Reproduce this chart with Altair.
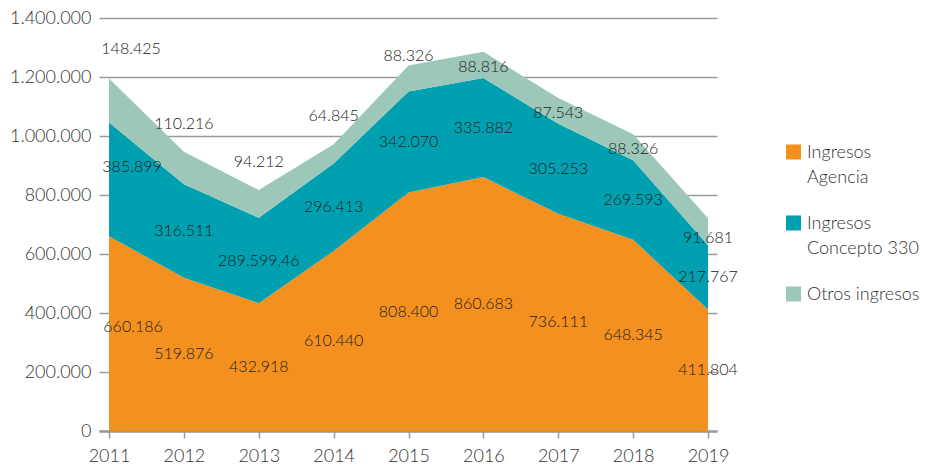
import altair as alt
import pandas as pd

years = [2011, 2012, 2013, 2014, 2015, 2016, 2017, 2018, 2019]
agencia = [660186, 519876, 432918, 610440, 808400, 860683, 736111, 648345, 411804]
concepto = [385899, 316511, 289599.46, 296413, 342070, 335882, 305253, 269593, 217767]
otros = [148425, 110216, 94212, 64845, 88326, 88816, 87543, 88326, 91681]
series = ["Ingresos Agencia", "Ingresos Concepto 330", "Otros ingresos"]
legend_line1 = ["Ingresos", "Ingresos", "Otros ingresos"]
legend_line2 = ["Agencia", "Concepto 330", ""]
colors = ["#F4901F", "#00A0B0", "#9DC7B9"]
y_ticks = [0, 200000, 400000, 600000, 800000, 1000000, 1200000, 1400000]

rows = []
for i, y in enumerate(years):
    base = 0
    for k, (name, vals) in enumerate(zip(series, [agencia, concepto, otros])):
        v = vals[i]
        rows.append({"year": y, "serie": name, "value": v, "order": k,
                     "high": base + v, "mid": base + v / 2})
        base += v
df = pd.DataFrame(rows)

FONT = "Lato"
W = 300

x_scale = alt.Scale(domain=[2010.866, 2019.12], nice=False, zero=False)
y_scale = alt.Scale(domain=[0, 1400000], nice=False, zero=False)
x_axis = alt.Axis(values=years, format="d", title=None, grid=False,
                  domainColor="#9a9a9a", domainWidth=2.5, tickColor="#9a9a9a",
                  tickWidth=1.5, tickSize=7, labelFontSize=18, labelPadding=9,
                  labelColor="#333333", labelFont=FONT, labelFontWeight=W)
y_axis = alt.Axis(values=y_ticks, format=",d", title=None, domain=False, ticks=False,
                  gridColor="#9a9a9a", gridWidth=1.5, labelFontSize=18,
                  labelColor="#333333", labelPadding=8, labelFont=FONT,
                  labelFontWeight=W)

areas = alt.Chart(df).mark_area(opacity=1).encode(
    x=alt.X("year:Q", scale=x_scale, axis=x_axis),
    y=alt.Y("value:Q", stack="zero", scale=y_scale, axis=y_axis),
    color=alt.Color("serie:N", scale=alt.Scale(domain=series, range=colors), legend=None),
    order=alt.Order("order:Q"),
)


def label_layer(cond, ycol, dx=0, dy=0):
    return alt.Chart(df).transform_filter(cond).mark_text(
        fontSize=16, font=FONT, fontWeight=W, color="#222222", dx=dx, dy=dy
    ).encode(
        x=alt.X("year:Q", scale=x_scale, axis=x_axis),
        y=alt.Y(f"{ycol}:Q", scale=y_scale, axis=y_axis),
        text=alt.Text("value:Q", format=",.2~f"),
    )


labels = [
    label_layer("datum.order < 2 && datum.year > 2011", "mid"),
    label_layer("datum.order == 0 && datum.year == 2011", "mid", dx=24, dy=-7),
    label_layer("datum.order == 1 && datum.year == 2011", "mid", dx=23, dy=-12),
    label_layer("datum.order == 2 && datum.year == 2011", "high", dx=22, dy=-30),
    label_layer("datum.order == 2 && datum.year > 2011 && datum.year <= 2014", "high", dy=-28),
    label_layer("datum.order == 2 && datum.year == 2015", "high", dy=-10),
    label_layer("datum.order == 2 && datum.year >= 2016 && datum.year <= 2018", "high", dy=15),
    label_layer("datum.order == 2 && datum.year == 2019", "high", dy=20),
]

main = alt.layer(areas, *labels).properties(width=618, height=413)

leg_df = pd.DataFrame({"serie": series, "idx": [0, 1, 2],
                       "l1": legend_line1, "l2": legend_line2})
leg_y = alt.Y("idx:Q", scale=alt.Scale(domain=[-1.887, 3.93], reverse=True, nice=False, zero=False),
              axis=None)
leg_x = alt.X("k:Q", scale=alt.Scale(domain=[0, 1], nice=False), axis=None)
leg_base = alt.Chart(leg_df).transform_calculate(k="0")
leg_sq = leg_base.mark_square(size=225, opacity=1).encode(
    x=leg_x, y=leg_y,
    color=alt.Color("serie:N", scale=alt.Scale(domain=series, range=colors), legend=None),
)
leg_t1 = leg_base.mark_text(align="left", baseline="middle", dx=13.5, dy=1, fontSize=18,
                            font=FONT, fontWeight=W, color="#333333").encode(
    x=leg_x, y=leg_y, text="l1:N")
leg_t2 = leg_base.mark_text(align="left", baseline="middle", dx=13.5, dy=26, fontSize=18,
                            font=FONT, fontWeight=W, color="#333333").encode(
    x=leg_x, y=leg_y, text="l2:N")
legend = alt.layer(leg_sq, leg_t1, leg_t2).properties(width=135, height=413)

chart = alt.hconcat(main, legend, spacing=76.5, bounds="flush").properties(
    padding={"left": 1, "top": 1, "right": 0, "bottom": 0}
).configure(font=FONT).configure_view(stroke=None)

chart.save("out.html", embed_options={"renderer": "svg", "actions": False,
                                      "formatLocale": {"decimal": ",", "thousands": ".",
                                                       "grouping": [3], "currency": ["", "€"]}})
